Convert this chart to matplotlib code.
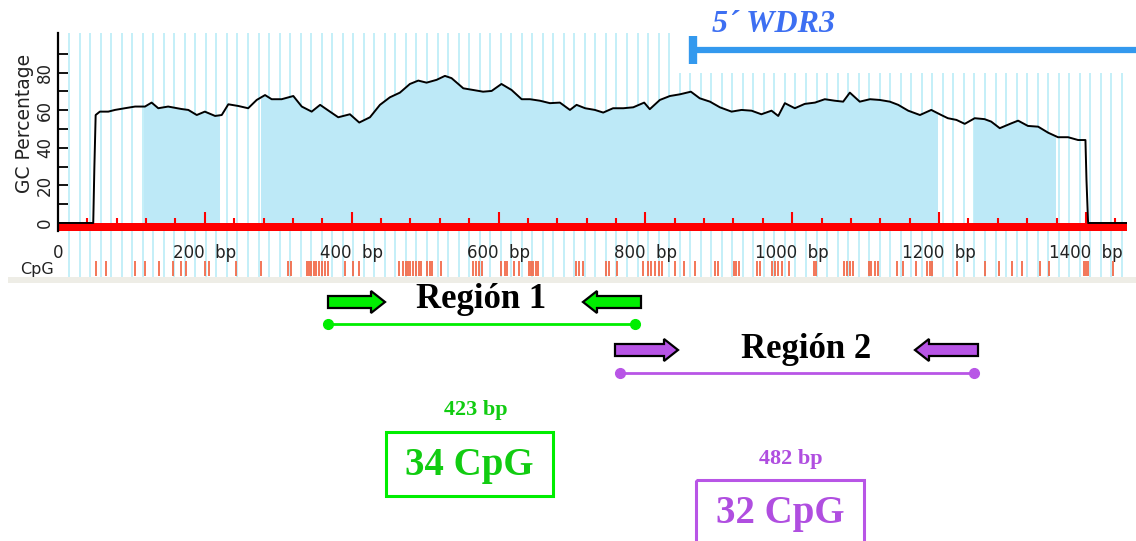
import numpy as np
import matplotlib
matplotlib.use("Agg")
import matplotlib.pyplot as plt
from matplotlib.patches import Rectangle, FancyArrow
from matplotlib.transforms import blended_transform_factory

# GC percentage profile (bp, %)
gc_pos = [0, 48, 49.5, 51.3, 57, 68.5, 77.6, 91, 105, 118.5, 127.5, 136.6, 150, 168, 177.5, 189, 200, 214, 223, 232,
          245.6, 259, 270.6, 282, 291, 304.6, 320.5, 332, 345.5,
          357, 370.4, 381.7, 397.6, 410.3, 424.9, 438.5, 452, 465.7, 479.3, 490.7, 502, 515.7, 527, 536, 552,
          565.6, 579, 590.6, 604, 617.8, 631.5, 642.8, 656.4, 670, 683.6, 697.3, 706.3,
          718, 731.3, 742.6, 756, 770, 783.5, 798.4, 806, 819.7, 833.4, 847, 862, 874, 888, 901.5, 917.4,
          931, 944.6, 958, 971.8, 981, 990, 1003.6, 1017, 1031, 1044.4, 1058, 1069.4,
          1078.5, 1092, 1106, 1119.4, 1133, 1144.4, 1158, 1174, 1189.4, 1203, 1212, 1223.7, 1235, 1248.6,
          1262, 1271, 1282.7, 1298.6, 1307.7, 1321, 1335, 1348.6, 1362, 1375.8, 1389.4, 1399.4, 1400.8, 1403, 1456]
gc_val = [0, 0, 29, 57.4, 59.2, 59.2, 60.1, 61, 61.9, 61.9, 64, 61, 61.9, 60.6, 60.1, 57.4, 59.2, 56.9, 57.4, 63.1,
          62.2, 61, 65.4, 68, 65.8, 65.8, 67.5, 61.9, 59.2,
          62.8, 59.2, 56.2, 57.8, 53.4, 56.2, 62.8, 66.8, 69.3, 73.9, 75.7, 74.6, 76.1, 78.2, 77, 71.6,
          70.7, 69.8, 70.2, 73.9, 70.7, 65.8, 65.8, 65, 63.7, 64, 60.1, 62.8,
          61, 60.1, 58.7, 61, 61, 61.5, 64, 60.5, 65.4, 67.5, 68.4, 69.8, 66.3, 64.5, 61.5, 59.2,
          60.1, 59.7, 57.8, 59.7, 56.9, 63.7, 61, 63.3, 64, 65.8, 65, 64.5,
          69.3, 64.5, 65.8, 65.4, 64.5, 62.8, 59.7, 57.4, 60.1, 57.4, 55.7, 54.8, 52.7, 55.7,
          55.2, 53.9, 50.4, 53, 54.4, 51.6, 51.2, 48, 45.6, 45.6, 44.1, 44.1, 22.9, 0, 0]

# shaded CpG islands (bp)
cpg_islands = [(117.6, 219.7), (276, 1197), (1247, 1357.5)]

# CpG site positions (bp)
cpg_sites = [52, 66, 105, 119, 138, 156, 168, 175, 200, 206, 243, 276, 313, 318, 339, 342, 345, 349, 352, 356,
             359, 364, 368, 391, 402, 410, 465, 470, 474, 477, 480, 484, 488, 492, 495, 502, 506, 510, 521,
             565, 569, 573, 578, 603, 609, 612, 621, 628, 641, 644, 647, 651, 654, 706, 710, 715, 746, 750,
             761, 797, 804, 808, 813, 818, 823, 840, 853, 867, 895, 899, 921, 924, 928, 952, 956, 973, 977,
             981, 986, 996, 1030, 1032, 1071, 1074, 1079, 1083, 1104, 1108, 1113, 1117, 1143, 1151, 1169,
             1184, 1188, 1191, 1224, 1262, 1281, 1299, 1313, 1337, 1350, 1397, 1400, 1403, 1437]

x_ticks = [0, 200, 400, 600, 800, 1000, 1200, 1400]
x_tick_labels = ["0", "200  bp", "400  bp", "600  bp", "800  bp", "1000  bp", "1200  bp", "1400  bp"]
y_ticks = [0, 20, 40, 60, 80]

gene_label = "5\u00b4 WDR3"
gene_start = 865

region_names = ["Región 1", "Región 2"]
region_bounds = [(368, 786), (766, 1248)]
region_bp = ["423 bp", "482 bp"]
region_cpg = ["34 CpG", "32 CpG"]
region_colors = ["#00ee00", "#b855e6"]
region_text_colors = ["#11cc11", "#b04ee0"]

W, H = 1136, 541
fig = plt.figure(figsize=(W / 100, H / 100), dpi=100)

ax = fig.add_axes([58 / W, 1 - 231 / H, 1069 / W, 198 / H])
ax.set_xlim(0, 1456)
ax.set_ylim(-4.26, 101)

# background stripes, reaching down through the label rows
ax.vlines(np.arange(15, 1456, 14.34), -28.7, 101, color="#c4eff8", lw=1.4, zorder=0, clip_on=False)

line_x = np.array(gc_pos)
line_y = np.array(gc_val)
for a, b in cpg_islands:
    f = ax.fill_between(line_x, 0, line_y, color="#bde9f7", lw=0, zorder=1)
    f.set_clip_path(Rectangle((a, -5), b - a, 110, transform=ax.transData))
ax.plot(line_x, line_y, color="black", lw=1.4, zorder=4)

ax.axhspan(-4.26, 0, color="#ff0000", lw=0, zorder=3)
tick_x = np.arange(40, 1456, 40)
tick_h = np.where(tick_x % 200 == 0, 6, 2.8)
ax.vlines(tick_x, 0, tick_h, color="#ff0000", lw=1.5, zorder=3)

ax.vlines(cpg_sites, -28.4, -20.2, color="#f26b4a", lw=1.3, zorder=2, clip_on=False)

for s in ["top", "right", "bottom"]:
    ax.spines[s].set_visible(False)
ax.spines["left"].set_linewidth(1.6)
ax.spines["left"].set_zorder(5)
ax.set_yticks(y_ticks)
ax.set_yticklabels([str(v) for v in y_ticks], rotation=90, va="center", fontsize=12, color="#222222")
ax.set_yticks(np.arange(10, 100, 20), minor=True)
ax.tick_params(axis="y", which="both", direction="in", length=7, width=1.3, pad=3)
ax.set_xticks(x_ticks)
ax.set_xticklabels(x_tick_labels, fontsize=12, color="#222222")
ax.tick_params(axis="x", length=0, pad=9)
ax.patch.set_alpha(0)

fig.text(25 / W, 1 - 123 / H, "GC Percentage", rotation=90, ha="center", va="center",
         fontsize=13.5, color="#222222")
fig.text(37 / W, 1 - 269 / H, "CpG", ha="center", va="center", fontsize=11.5, color="#222222")

# overlay in pixel coordinates for the annotations
ov = fig.add_axes([0, 0, 1, 1], zorder=5)
ov.set_xlim(0, W)
ov.set_ylim(H, 0)
ov.axis("off")
ov.patch.set_alpha(0)
bp_y = blended_transform_factory(ax.transData, ov.transData)

ov.add_patch(Rectangle((8, 277), W - 8, 6, color="#eeede6", lw=0))
ov.add_patch(Rectangle((672, 0), W - 672, 73, color="white", lw=0))

ov.plot([gene_start, 1480], [50, 50], color="#3399ee", lw=4.5, transform=bp_y, clip_on=False,
        solid_capstyle="butt")
ov.plot([gene_start, gene_start], [36, 64], color="#3399ee", lw=6, transform=bp_y, solid_capstyle="butt")
ov.text(712, 25, gene_label, color="#3d6ff2", fontsize=23, fontweight="bold", style="italic",
        family="Liberation Serif", ha="left", va="center")

line_ys = [324, 373]
arrow_ys = [302, 350]
arrows = [((328, 385), (641, 583)), ((615, 678), (978, 915))]
name_xy = [(481, 300), (806, 350)]
bp_xy = [(476, 410), (791, 459)]
boxes = [(386, 432, 167, 64), (696, 480, 168, 70)]
cpg_xy = [(469, 465), (780, 513)]

for i in range(2):
    c = region_colors[i]
    a, b = region_bounds[i]
    ov.plot([a, b], [line_ys[i], line_ys[i]], color=c, lw=2, transform=bp_y)
    ov.plot([a, b], [line_ys[i], line_ys[i]], "o", color=c, ms=7, transform=bp_y)
    for x0, x1 in arrows[i]:
        ov.add_patch(FancyArrow(x0, arrow_ys[i], x1 - x0, 0, width=12, head_width=22, head_length=14,
                                length_includes_head=True, fc=c, ec="black", lw=1.6))
    ov.text(*name_xy[i], region_names[i], fontsize=25, fontweight="bold", family="Liberation Serif",
            ha="center", va="center", color="black")
    ov.text(*bp_xy[i], region_bp[i], fontsize=16, fontweight="bold", family="Liberation Serif",
            ha="center", va="center", color=region_text_colors[i])
    bx, by, bw, bh = boxes[i]
    ov.add_patch(Rectangle((bx, by), bw, bh, fill=False, ec=c, lw=2.2))
    ov.text(*cpg_xy[i], region_cpg[i], fontsize=28, fontweight="bold", family="Liberation Serif",
            ha="center", va="center", color=region_text_colors[i])

fig.savefig("out.png", dpi=100)
